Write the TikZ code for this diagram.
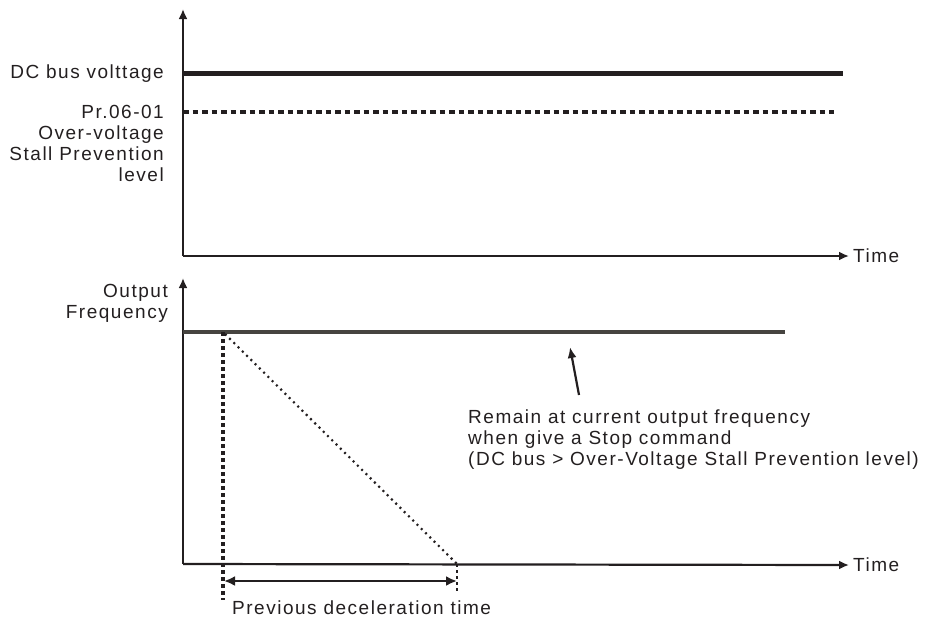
\documentclass[tikz,border=0pt]{standalone}
\usepackage{fontspec}
\setmainfont{Liberation Sans}[LetterSpace=8]
\usetikzlibrary{arrows.meta}
\definecolor{ink}{RGB}{35,31,32}
\definecolor{freqcol}{RGB}{70,68,64}
\begin{document}
\begin{tikzpicture}[x=1pt,y=-1pt,
  axis/.style={draw=ink,line width=2.2pt,-{Latex[length=10pt,width=9pt]}},
  lbl/.style={font=\fontsize{19}{20.9}\selectfont,text=ink,inner sep=0pt},
  level/.style={draw=ink,line width=5pt},
  dashlvl/.style={draw=ink,line width=3.5pt,dash pattern=on 5.5pt off 4pt},
  vdash/.style={draw=ink,line width=3.5pt,dash pattern=on 4pt off 3pt},
  fine/.style={draw=ink,line width=2.2pt,dash pattern=on 2pt off 4pt},
  short/.style={draw=ink,line width=2.2pt,dash pattern=on 3pt off 3pt},
  span/.style={draw=ink,line width=2.8pt,{Latex[length=11pt,width=10pt]}-{Latex[length=11pt,width=10pt]}},
  pointer/.style={draw=ink,line width=2.2pt,-{Latex[length=11pt,width=9pt]}}]
\useasboundingbox (0,0) rectangle (926,619);
% ---------- top plot ----------
\coordinate (o1) at (183,256);
\coordinate (y1) at (183,9);
\node[lbl,anchor=west] (t1) at (853,256) {Time};
\draw[axis] (o1) -- (y1);
\draw[axis] (o1) -- ([xshift=-4pt]t1.west);
\coordinate (dcA) at (183,73);
\coordinate (dcB) at (843,73);
\draw[level] (dcA) -- (dcB);
\node[lbl,anchor=base east] (dclbl) at (164,78.5) {DC bus volttage};
\coordinate (ovA) at (183,112);
\coordinate (ovB) at (834,112);
\draw[dashlvl] (ovA) -- (ovB);
\node[lbl,anchor=north east,align=right] (ovlbl) at (164,105)
  {Pr.06-01\\Over-voltage\\Stall Prevention\\level};
% ---------- bottom plot ----------
\coordinate (o2) at (183,564);
\coordinate (y2) at (183,278);
\node[lbl,anchor=west] (t2) at (853,565) {Time};
\draw[axis] (o2) -- (y2);
\draw[axis] (o2) -- ([xshift=-4pt]t2.west);
\node[lbl,anchor=north east,align=right] (oflbl) at (168,284.5) {Output\\Frequency};
\coordinate (fA) at (183,332);
\coordinate (fB) at (785,332);
\draw[draw=freqcol,line width=4.5pt] (fA) -- (fB);
\coordinate (vA) at (223,332);
\coordinate (vB) at (223,600);
\draw[vdash] (vA) -- (vB);
\coordinate (dA) at (225,334);
\coordinate (dB) at (457,564);
\draw[fine] (dA) -- (dB);
\coordinate (sB) at (457,592);
\draw[short] (dB) -- (sB);
\coordinate (aL) at (224,581);
\coordinate (aR) at (457,581);
\draw[span] (aL) -- (aR);
\node[lbl,anchor=base west] (declbl) at (232,614) {Previous deceleration time};
\node[lbl,anchor=north west,align=left] (note) at (468,409.5)
  {Remain at current output frequency\\when give a Stop command\\(DC bus > Over-Voltage Stall Prevention level)};
\coordinate (pT) at (570,347);
\coordinate (pS) at (579,395);
\draw[pointer] (pS) -- (pT);
\end{tikzpicture}
\end{document}
